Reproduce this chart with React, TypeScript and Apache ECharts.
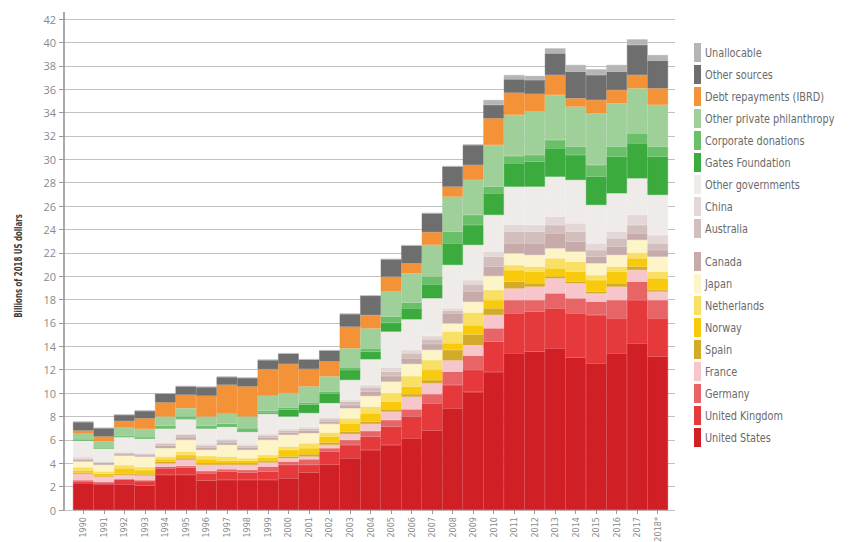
import React, { useEffect, useRef } from "react";
import * as echarts from "echarts";

const years = [
  "1990", "1991", "1992", "1993", "1994", "1995", "1996", "1997", "1998", "1999",
  "2000", "2001", "2002", "2003", "2004", "2005", "2006", "2007", "2008", "2009",
  "2010", "2011", "2012", "2013", "2014", "2015", "2016", "2017", "2018*",
];

const yTicks = { min: 0, max: 42, interval: 2 };

const unitedStates = [2.3, 2.2, 2.2, 2.08, 3.0, 3.0, 2.51, 2.57, 2.57, 2.57, 2.71, 3.2, 3.86, 4.42, 5.13, 5.56, 6.13, 6.79, 8.7, 10.1, 11.8, 13.4, 13.54, 13.83, 13.05, 12.55, 13.4, 14.26, 13.12];
const unitedKingdom = [0.15, 0.1, 0.4, 0.4, 0.57, 0.63, 0.63, 0.72, 0.63, 0.72, 1.15, 0.66, 1.14, 1.14, 1.14, 1.57, 1.85, 2.33, 1.99, 1.88, 2.6, 3.42, 3.43, 3.42, 3.77, 4.13, 3.0, 3.7, 3.28];
const germany = [0.1, 0.1, 0.05, 0.07, 0.14, 0.14, 0.2, 0.2, 0.23, 0.42, 0.28, 0.48, 0.29, 0.43, 0.49, 0.57, 0.63, 0.8, 1.14, 1.22, 1.14, 1.14, 0.99, 1.28, 1.29, 1.14, 1.56, 1.57, 1.56];
const france = [0.55, 0.45, 0.35, 0.39, 0.29, 0.52, 0.52, 0.37, 0.43, 0.35, 0.29, 0.23, 0.28, 0.51, 0.6, 0.71, 1.08, 0.92, 0.97, 0.9, 1.14, 1.0, 1.14, 1.29, 1.28, 0.71, 1.14, 1.0, 0.72];
const spain = [0.08, 0.05, 0.1, 0.12, 0.14, 0.14, 0.14, 0.14, 0.14, 0.14, 0.14, 0.2, 0.2, 0.2, 0.2, 0.2, 0.23, 0.28, 0.89, 0.9, 0.57, 0.57, 0.29, 0.14, 0.14, 0.15, 0.29, 0.29, 0.14];
const norway = [0.2, 0.2, 0.46, 0.36, 0.2, 0.28, 0.34, 0.23, 0.23, 0.29, 0.57, 0.52, 0.52, 0.71, 0.71, 0.66, 0.63, 0.86, 0.57, 0.8, 0.71, 1.0, 1.0, 0.71, 0.86, 0.99, 1.0, 0.71, 1.0];
const netherlands = [0.28, 0.2, 0.29, 0.26, 0.23, 0.29, 0.29, 0.34, 0.2, 0.22, 0.29, 0.42, 0.34, 0.43, 0.57, 0.71, 0.91, 0.85, 1.0, 1.1, 0.86, 0.43, 0.43, 0.86, 0.85, 0.43, 0.43, 0.43, 0.57];
const japan = [0.49, 0.56, 0.8, 0.88, 0.72, 1.0, 0.51, 1.0, 0.71, 1.29, 1.0, 0.86, 0.74, 0.86, 0.91, 1.0, 1.03, 0.86, 0.71, 0.9, 1.2, 1.0, 0.99, 0.85, 0.86, 1.0, 0.99, 1.14, 1.28];
const canada = [0.14, 0.15, 0.14, 0.14, 0.2, 0.23, 0.2, 0.2, 0.2, 0.2, 0.2, 0.2, 0.2, 0.28, 0.37, 0.48, 0.48, 0.51, 0.85, 0.9, 0.8, 0.86, 1.0, 1.29, 0.85, 0.57, 0.71, 0.57, 0.57];
const australia = [0.12, 0.07, 0.09, 0.09, 0.17, 0.2, 0.17, 0.17, 0.15, 0.17, 0.17, 0.17, 0.2, 0.29, 0.37, 0.37, 0.43, 0.4, 0.23, 0.6, 0.85, 1.0, 1.0, 0.71, 0.86, 0.57, 0.72, 0.71, 0.57];
const china = [0.11, 0.07, 0.05, 0.05, 0.11, 0.08, 0.12, 0.12, 0.14, 0.12, 0.14, 0.15, 0.14, 0.14, 0.2, 0.35, 0.29, 0.29, 0.2, 0.37, 0.43, 0.57, 0.57, 0.71, 0.71, 0.57, 0.57, 0.86, 0.71];
const otherGovernments = [1.43, 1.14, 1.34, 1.29, 1.23, 1.29, 1.37, 1.08, 1.08, 1.74, 1.06, 1.2, 1.23, 1.71, 2.2, 3.08, 2.62, 3.22, 3.71, 3.0, 3.14, 3.27, 3.28, 3.42, 3.71, 3.28, 3.28, 3.13, 3.43];
const gatesFoundation = [0, 0, 0, 0, 0, 0, 0, 0, 0, 0.1, 0.57, 0.71, 0.8, 0.86, 0.64, 0.74, 0.94, 1.19, 1.85, 1.71, 1.85, 1.99, 2.14, 2.43, 2.14, 2.42, 3.13, 3.0, 3.27];
const corporateDonations = [0.1, 0.05, 0.1, 0.1, 0.2, 0.2, 0.2, 0.23, 0.29, 0.15, 0.2, 0.2, 0.2, 0.22, 0.29, 0.54, 0.49, 0.66, 1.0, 0.86, 0.57, 0.63, 0.57, 0.71, 0.71, 1.0, 0.86, 0.85, 0.86];
const otherPrivatePhilanthropy = [0.47, 0.52, 0.67, 0.7, 0.8, 0.71, 0.8, 0.86, 1.0, 1.28, 1.23, 1.37, 1.29, 1.63, 1.71, 2.14, 2.51, 2.71, 2.99, 2.99, 3.56, 3.51, 3.7, 3.85, 3.42, 4.42, 3.71, 3.85, 3.57];
const debtRepayments = [0.28, 0.43, 0.57, 0.91, 1.2, 1.15, 1.77, 2.48, 2.57, 2.29, 2.49, 1.49, 1.28, 1.85, 1.14, 1.28, 0.85, 1.1, 0.86, 1.28, 2.28, 1.91, 1.52, 1.71, 0.72, 1.14, 1.14, 1.14, 1.42];
const otherSources = [0.72, 0.71, 0.52, 0.63, 0.74, 0.71, 0.74, 0.66, 0.72, 0.77, 0.88, 0.8, 0.92, 1.08, 1.65, 1.48, 1.51, 1.6, 1.71, 1.71, 1.15, 1.14, 1.19, 1.85, 2.28, 2.14, 1.57, 2.57, 2.37];
const unallocable = [0.05, 0.03, 0.05, 0.05, 0.04, 0.05, 0.05, 0.05, 0.05, 0.05, 0.05, 0.05, 0.05, 0.05, 0.05, 0.05, 0.05, 0.05, 0.06, 0.05, 0.42, 0.37, 0.35, 0.43, 0.57, 0.49, 0.57, 0.48, 0.48];

// bottom to top
const seriesDefs: { name: string; data: number[]; color: string }[] = [
  { name: "United States", data: unitedStates, color: "#d11f26" },
  { name: "United Kingdom", data: unitedKingdom, color: "#e5393b" },
  { name: "Germany", data: germany, color: "#e76467" },
  { name: "France", data: france, color: "#f6c6ca" },
  { name: "Spain", data: spain, color: "#d4aa2a" },
  { name: "Norway", data: norway, color: "#f8ca0b" },
  { name: "Netherlands", data: netherlands, color: "#f9df63" },
  { name: "Japan", data: japan, color: "#fdf4c8" },
  { name: "Canada", data: canada, color: "#c6abaa" },
  { name: "Australia", data: australia, color: "#d2bfbd" },
  { name: "China", data: china, color: "#e3d8d7" },
  { name: "Other governments", data: otherGovernments, color: "#efebe9" },
  { name: "Gates Foundation", data: gatesFoundation, color: "#3bab3e" },
  { name: "Corporate donations", data: corporateDonations, color: "#6abf69" },
  { name: "Other private philanthropy", data: otherPrivatePhilanthropy, color: "#9fd09a" },
  { name: "Debt repayments (IBRD)", data: debtRepayments, color: "#f39237" },
  { name: "Other sources", data: otherSources, color: "#6e6e6e" },
  { name: "Unallocable", data: unallocable, color: "#b5b5b5" },
];

const legendTop = [
  "Unallocable", "Other sources", "Debt repayments (IBRD)", "Other private philanthropy",
  "Corporate donations", "Gates Foundation", "Other governments", "China", "Australia",
];
const legendBottom = [
  "Canada", "Japan", "Netherlands", "Norway", "Spain", "France", "Germany",
  "United Kingdom", "United States",
];

const condensed = "'DejaVu Sans Condensed', sans-serif";

function legendGraphics(names: string[], top: number) {
  const out: any[] = [];
  names.forEach((n, i) => {
    const def = seriesDefs.find((s) => s.name === n)!;
    const y = top + i * 22;
    out.push({
      type: "rect",
      shape: { x: 694, y, width: 7, height: 19 },
      style: { fill: def.color },
      silent: true,
    });
    out.push({
      type: "text",
      x: 705,
      y: y + 9.5,
      scaleX: 0.9,
      silent: true,
      style: {
        text: n,
        fill: "#6a6a6a",
        fontSize: 12,
        fontFamily: condensed,
        align: "left",
        verticalAlign: "middle",
      },
    });
  });
  return out;
}

export default function App() {
  const ref = useRef<HTMLDivElement>(null);

  useEffect(() => {
    document.body.style.margin = "0";
    if (!ref.current) return;
    const chart = echarts.init(ref.current, undefined, { renderer: "svg" });

    chart.setOption({
      animation: false,
      backgroundColor: "#ffffff",
      grid: [
        // frame grid: y axis, gridlines (x 64..675)
        { left: 64, right: 179, top: 19, bottom: 32, outerBoundsMode: "none", containLabel: false },
        // column grid: stacked columns (x 73..668)
        { left: 73, right: 186, top: 19, bottom: 32, outerBoundsMode: "none", containLabel: false },
      ],
      graphic: [
        {
          type: "line",
          shape: { x1: 64, y1: 12, x2: 64, y2: 19 },
          style: { stroke: "#8e8e8e", lineWidth: 1.5 },
          silent: true,
        },
        {
          type: "text",
          x: 19,
          y: 266,
          rotation: Math.PI / 2,
          scaleX: 0.78,
          style: {
            text: "Billions of 2018 US dollars",
            fill: "#3c3c3c",
            fontSize: 10,
            fontWeight: "bold",
            fontFamily: condensed,
            align: "center",
            verticalAlign: "middle",
          },
        },
        ...legendGraphics(legendTop, 43),
        ...legendGraphics(legendBottom, 252),
      ],
      xAxis: [
        { type: "value", gridIndex: 0, show: false, min: 0, max: 1 },
        {
          type: "category",
          gridIndex: 1,
          data: years,
          axisLine: { show: false },
          axisTick: { show: true, alignWithLabel: true, interval: 0, length: 4, lineStyle: { color: "#9a9a9a" } },
          axisLabel: {
            interval: 0,
            rotate: 90,
            fontSize: 9,
            color: "#8a8a8a",
            margin: 7,
            fontFamily: condensed,
          },
        },
      ],
      yAxis: [
        {
          type: "value",
          gridIndex: 0,
          min: yTicks.min,
          max: yTicks.max,
          interval: yTicks.interval,
          axisLine: { show: true, lineStyle: { color: "#8e8e8e", width: 1.5 } },
          axisTick: { show: true, length: 5, lineStyle: { color: "#9a9a9a" } },
          axisLabel: { fontSize: 11, color: "#8a8a8a", margin: 8, fontFamily: "'Open Sans', sans-serif" },
          splitLine: { show: true, lineStyle: { color: "#c2c2c2", width: 1 } },
        },
        {
          type: "value",
          gridIndex: 1,
          min: yTicks.min,
          max: yTicks.max,
          interval: yTicks.interval,
          show: false,
          splitLine: { show: false },
        },
      ],
      series: seriesDefs.map((s) => ({
        name: s.name,
        type: "bar",
        stack: "total",
        xAxisIndex: 1,
        yAxisIndex: 1,
        barCategoryGap: "0%",
        barWidth: "100%",
        data: s.data,
        itemStyle: { color: s.color, borderColor: s.color, borderWidth: 0.4 },
        emphasis: { disabled: true },
      })),
    });

    return () => chart.dispose();
  }, []);

  return <div ref={ref} style={{ width: 854, height: 542 }} />;
}
